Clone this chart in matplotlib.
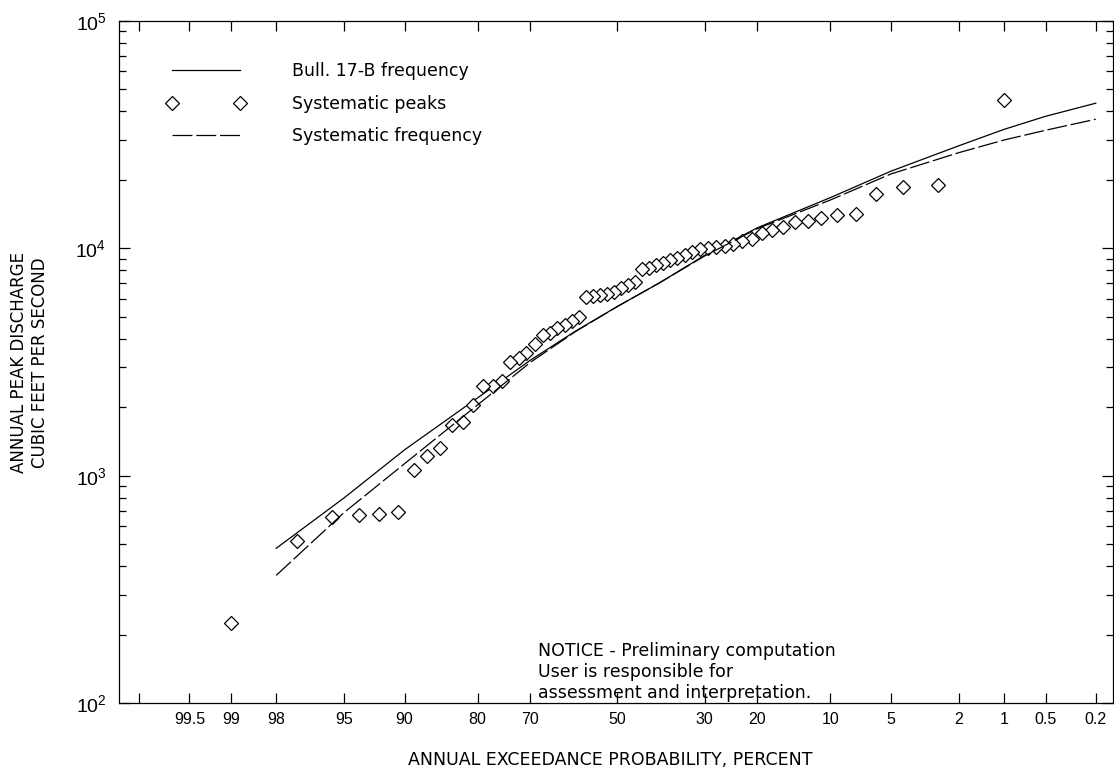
import matplotlib
matplotlib.use("Agg")
import matplotlib.pyplot as plt
from matplotlib.ticker import FixedLocator, LogLocator, NullFormatter, FixedFormatter
from statistics import NormalDist

plt.rcParams["font.family"] = ["Liberation Sans", "DejaVu Sans"]
plt.rcParams["mathtext.default"] = "regular"
TEXT_FONT = ["DejaVu Sans"]

# systematic peaks: exceedance probability (percent) and discharge (cfs)
peak_exceedance = [1.0, 2.7, 4.3, 6.0, 7.6, 9.3, 11.0, 12.6, 14.3, 16.0,
                   17.6, 19.3, 20.9, 22.6, 24.3, 25.9, 27.6, 29.2, 30.9, 32.6,
                   34.2, 35.9, 37.5, 39.2, 40.9, 42.5, 44.2, 45.8, 47.5, 49.2,
                   50.8, 52.5, 54.2, 55.8, 57.5, 59.1, 60.8, 62.5, 64.1, 65.8,
                   67.4, 69.1, 70.8, 72.4, 74.1, 75.7, 77.4, 79.1, 80.7, 82.4,
                   84.1, 85.7, 87.4, 89.0, 90.7, 92.4, 94.0, 95.7, 97.3, 99.0]
peak_discharge = [45000, 18900, 18500, 17300, 14200, 14000, 13600, 13200, 13000, 12400,
                  12000, 11700, 11000, 10800, 10400, 10200, 10100, 10000, 9900, 9600,
                  9300, 9100, 8900, 8650, 8400, 8200, 8100, 7100, 6900, 6700,
                  6450, 6300, 6200, 6150, 6100, 5000, 4800, 4600, 4450, 4250,
                  4150, 3800, 3480, 3290, 3150, 2620, 2480, 2470, 2050, 1720,
                  1680, 1330, 1220, 1060, 690, 680, 673, 660, 517, 226]

# frequency curves
curve_exceedance = [98, 95, 90, 80, 70, 60, 50, 40, 30, 20, 10, 5, 2, 1, 0.5, 0.2]
bull17b_discharge = [480, 800, 1300, 2200, 3220, 4320, 5550, 7050, 9300, 12300,
                     16700, 21800, 28200, 33300, 38000, 43400]
systematic_discharge = [365, 690, 1130, 2050, 3150, 4300, 5550, 7050, 9250, 12200,
                        16300, 21200, 26300, 29900, 33000, 36900]

tick_percent = [99.8, 99.5, 99, 98, 95, 90, 80, 70, 50, 30, 20, 10, 5, 2, 1, 0.5, 0.2]
tick_labels = ["", "99.5", "99", "98", "95", "90", "80", "70", "50", "30", "20",
               "10", "5", "2", "1", "0.5", "0.2"]

norm = NormalDist()


def to_z(pcts):
    return [norm.inv_cdf(1 - p / 100.0) for p in pcts]


fig = plt.figure(figsize=(11.14, 7.70), dpi=100)
ax = fig.add_axes([0.1068, 0.0866, 0.892, 0.8865])

ax.plot(to_z(curve_exceedance), bull17b_discharge, color="black", lw=0.9,
        label="Bull. 17-B frequency")
ax.plot(to_z(peak_exceedance), peak_discharge, linestyle="none", marker="D",
        markersize=7, markerfacecolor="white", markeredgecolor="black",
        markeredgewidth=0.9, label="Systematic peaks")
ax.plot(to_z(curve_exceedance), systematic_discharge, color="black", lw=0.9,
        dashes=(16, 3), label="Systematic frequency")

ax.set_yscale("log")
ax.set_ylim(100, 100000)
ax.set_xlim(-3.0, 2.98)

ax.xaxis.set_major_locator(FixedLocator(to_z(tick_percent)))
ax.xaxis.set_major_formatter(FixedFormatter(tick_labels))
ax.yaxis.set_major_locator(LogLocator(base=10, numticks=10))
ax.yaxis.set_minor_locator(LogLocator(base=10, subs=range(2, 10), numticks=20))
ax.yaxis.set_minor_formatter(NullFormatter())

ax.tick_params(axis="both", which="both", direction="in", top=True, right=True,
               labelsize=11.5, width=0.9)
ax.tick_params(axis="x", which="major", length=7, pad=6)
ax.tick_params(axis="y", which="major", length=8, pad=9, labelsize=14)
ax.tick_params(axis="y", which="minor", length=5)
for s in ax.spines.values():
    s.set_linewidth(0.9)

ax.legend(loc="upper left", bbox_to_anchor=(0.0483, 0.9390), frameon=False,
          numpoints=2, handlelength=4.5, handletextpad=2.7, labelspacing=0.82,
          borderpad=0, borderaxespad=0,
          prop={"family": TEXT_FONT, "size": 12.5})

ax.text(0.4217, 0.0459,
        "NOTICE - Preliminary computation\nUser is responsible for\nassessment and interpretation.",
        transform=ax.transAxes, ha="left", va="center", fontsize=12.5,
        family=TEXT_FONT, linespacing=1.24)

fig.text(0.0265, 0.5286, "ANNUAL PEAK DISCHARGE\nCUBIC FEET PER SECOND",
         rotation=90, ha="center", va="center", fontsize=12, family=TEXT_FONT,
         linespacing=1.2)
fig.text(0.5476, 0.0125, "ANNUAL EXCEEDANCE PROBABILITY, PERCENT",
         ha="center", va="center", fontsize=12.5, family=TEXT_FONT)

fig.savefig("out.png", dpi=100)
